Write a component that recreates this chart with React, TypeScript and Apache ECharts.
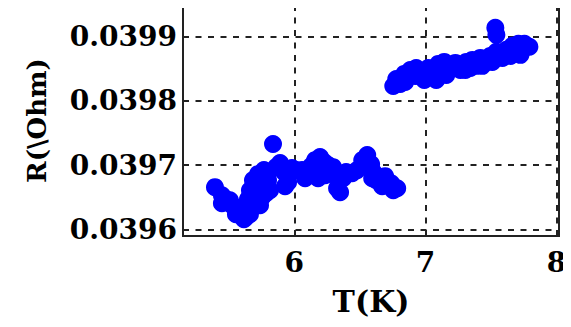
import React, { useEffect, useRef } from "react";
import * as echarts from "echarts";

// Resistance vs temperature, low-temperature cluster
const lowBranch: [number, number][] = [
  [5.394, 0.0396659], [5.447, 0.0396534], [5.447, 0.039641], [5.478, 0.0396472],
  [5.508, 0.0396456], [5.524, 0.0396379], [5.554, 0.0396238], [5.57, 0.0396332],
  [5.608, 0.039627], [5.615, 0.039616], [5.615, 0.0396363], [5.631, 0.0396192],
  [5.661, 0.0396238], [5.677, 0.0396363], [5.646, 0.0396472], [5.661, 0.0396612],
  [5.707, 0.0396519], [5.738, 0.0396379], [5.753, 0.0396503], [5.784, 0.0396565],
  [5.814, 0.0396612], [5.722, 0.0396675], [5.684, 0.0396768], [5.722, 0.0396861],
  [5.768, 0.0396924], [5.799, 0.0396768], [5.837, 0.0397329], [5.86, 0.039697],
  [5.891, 0.0397033], [5.921, 0.0396893], [5.929, 0.0396675], [5.952, 0.0396737],
  [5.982, 0.0396955], [6.013, 0.0396924], [6.059, 0.0396924], [6.082, 0.0396799],
  [6.105, 0.0396877], [6.128, 0.0396986], [6.158, 0.0397079], [6.181, 0.0396799],
  [6.196, 0.0397126], [6.227, 0.0397048], [6.235, 0.0396846], [6.258, 0.0397002],
  [6.296, 0.039697], [6.319, 0.039683], [6.326, 0.0396643], [6.349, 0.0396581],
  [6.372, 0.0396799], [6.395, 0.0396893], [6.441, 0.0396877], [6.479, 0.0396924],
  [6.518, 0.0397079], [6.556, 0.0397157], [6.586, 0.0397017], [6.594, 0.0396799],
  [6.602, 0.0396893], [6.625, 0.0396768], [6.655, 0.0396799], [6.67, 0.0396675],
  [6.693, 0.039683], [6.701, 0.0396768], [6.739, 0.0396721], [6.785, 0.0396643],
  [6.755, 0.0396612],
];

// Resistance vs temperature, high-temperature cluster
const highBranch: [number, number][] = [
  [6.755, 0.0398232], [6.778, 0.0398341], [6.808, 0.0398263], [6.839, 0.0398419],
  [6.846, 0.0398294], [6.885, 0.0398481], [6.923, 0.0398388], [6.93, 0.0398512],
  [6.961, 0.0398388], [6.992, 0.0398326], [7.022, 0.0398512], [7.037, 0.0398419],
  [7.083, 0.0398326], [7.099, 0.0398575], [7.144, 0.0398606], [7.144, 0.039845],
  [7.16, 0.0398403], [7.19, 0.0398512], [7.229, 0.039859], [7.267, 0.0398481],
  [7.305, 0.0398481], [7.313, 0.0398606], [7.343, 0.0398512], [7.359, 0.0398637],
  [7.389, 0.0398544], [7.42, 0.0398668], [7.435, 0.0398544], [7.466, 0.0398606],
  [7.496, 0.0398699], [7.511, 0.0398606], [7.542, 0.0398762], [7.588, 0.0398668],
  [7.534, 0.0399136], [7.542, 0.0399026], [7.618, 0.0398793], [7.649, 0.0398699],
  [7.664, 0.0398855], [7.71, 0.0398886], [7.726, 0.0398715], [7.756, 0.0398886],
  [7.794, 0.039884], [7.741, 0.0398793],
];

const xRange = [5.15, 8.02];
const yRange = [0.03959, 0.039949];
const xTickStep = 1;
const yTickStep = 0.0001;

const labelFont = {
  fontFamily: "DejaVu Serif",
  fontWeight: "bold" as const,
  color: "#000",
};

const dashed = {
  show: true,
  lineStyle: { color: "#222", width: 2, type: [6, 6.5] as number[] },
};

export default function App() {
  const ref = useRef<HTMLDivElement>(null);

  useEffect(() => {
    if (!ref.current) return;
    const chart = echarts.init(ref.current, undefined, { renderer: "svg" });
    const onStep = (v: number, step: number) =>
      Math.abs(v / step - Math.round(v / step)) < 1e-6;

    const dots = {
      type: "scatter" as const,
      symbol: "circle",
      symbolSize: 18,
      itemStyle: { color: "#0000ff", opacity: 1 },
    };

    chart.setOption({
      animation: false,
      backgroundColor: "#fff",
      grid: {
        left: 183,
        right: 12,
        top: 5,
        bottom: 91,
        show: true,
        borderColor: "#222",
        borderWidth: 2,
        backgroundColor: "transparent",
      },
      xAxis: {
        type: "value",
        min: xRange[0],
        max: xRange[1],
        minInterval: xTickStep,
        maxInterval: xTickStep,
        axisLine: { show: false },
        axisTick: { show: true, inside: true, length: 4, lineStyle: { color: "#222", width: 2 } },
        splitLine: dashed,
        axisLabel: {
          ...labelFont,
          fontSize: 28,
          margin: 12,
          formatter: (v: number) => (onStep(v, xTickStep) ? String(Math.round(v)) : ""),
        },
        name: "T(K)",
        nameLocation: "middle",
        nameGap: 50,
        nameTextStyle: { ...labelFont, fontSize: 30 },
      },
      yAxis: {
        type: "value",
        min: yRange[0],
        max: yRange[1],
        minInterval: yTickStep,
        maxInterval: yTickStep,
        axisLine: { show: false },
        axisTick: { show: false },
        splitLine: dashed,
        axisLabel: {
          ...labelFont,
          fontSize: 28,
          margin: 6,
          formatter: (v: number) => (onStep(v, yTickStep) ? v.toFixed(4) : ""),
        },
        name: "R(\\Ohm)",
        nameLocation: "middle",
        nameGap: 133,
        nameTextStyle: { ...labelFont, fontSize: 26 },
      },
      series: [
        { ...dots, data: lowBranch },
        { ...dots, data: highBranch },
      ],
    });
    return () => chart.dispose();
  }, []);

  return <div ref={ref} style={{ width: 571, height: 327, margin: -8 }} />;
}
